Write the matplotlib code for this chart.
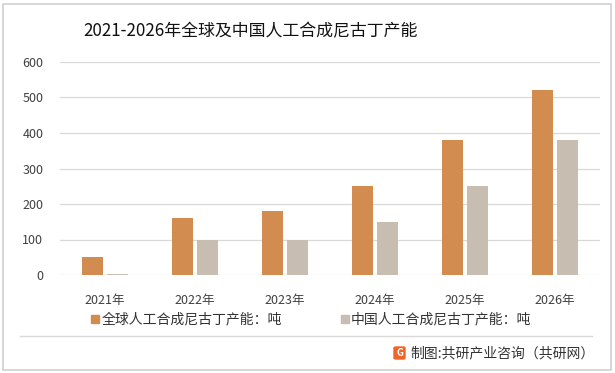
import numpy as np
import matplotlib.pyplot as plt
from matplotlib.patches import Rectangle, FancyBboxPatch
from matplotlib.lines import Line2D

plt.rcParams['font.family'] = ['Noto Sans CJK SC', 'DejaVu Sans']

years = ['2021年', '2022年', '2023年', '2024年', '2025年', '2026年']
global_cap = [50, 160, 180, 250, 380, 520]
china_cap = [3, 100, 100, 150, 250, 380]
series_names = ['全球人工合成尼古丁产能：吨', '中国人工合成尼古丁产能：吨']
title = '2021-2026年全球及中国人工合成尼古丁产能'
source = '制图:共研产业咨询（共研网）'

c_global = '#D38C4F'
c_china = '#C8BDB1'

fig = plt.figure(figsize=(6.15, 3.73), dpi=100)
ax = fig.add_axes([60 / 615, 1 - 275 / 373, 540 / 615, 213 / 373])

x = np.arange(len(years))
w = 0.235
ax.bar(x - 0.142, global_cap, w, color=c_global, zorder=3)
ax.bar(x + 0.142, china_cap, w, color=c_china, zorder=3)

ax.set_xlim(-0.5, len(years) - 0.5)
ax.set_ylim(0, 600)
ax.set_yticks(range(0, 601, 100))
ax.yaxis.grid(True, color='#D9D9D9', linewidth=0.9, zorder=0)
for s in ax.spines.values():
    s.set_visible(False)
ax.tick_params(axis='both', length=0, labelsize=9, colors='#404040')
ax.tick_params(axis='y', pad=12)
ax.tick_params(axis='x', pad=14)
ax.set_xticks(x)
ax.set_xticklabels(years)

fig.text(250 / 615, 1 - 31 / 373, title, ha='center', va='center', fontsize=12.2, color='#111111')

# legend
fy = lambda py: 1 - py / 373
fig.patches.append(Rectangle((91 / 615, fy(323)), 8 / 615, 8 / 373, color=c_global, transform=fig.transFigure))
fig.text(102 / 615, fy(319), series_names[0], ha='left', va='center', fontsize=10, color='#333333')
fig.patches.append(Rectangle((341 / 615, fy(323)), 8 / 615, 8 / 373, color=c_china, transform=fig.transFigure))
fig.text(351 / 615, fy(319), series_names[1], ha='left', va='center', fontsize=10, color='#333333')

fig.lines.append(Line2D([20 / 615, 592 / 615], [fy(336), fy(336)], color='#D9D9D9', linewidth=1, transform=fig.transFigure))

# source line with logo
fig.patches.append(FancyBboxPatch((394 / 615, fy(359)), 11 / 615, 12 / 373, boxstyle='round,pad=0,rounding_size=0.003',
                                  color='#F0642A', transform=fig.transFigure))
fig.text(399.5 / 615, fy(353), 'G', ha='center', va='center', fontsize=7, fontweight='bold', color='white')
fig.text(410 / 615, fy(353), source, ha='left', va='center', fontsize=10, color='#333333')

# outer border
fig.patches.append(Rectangle((3 / 615, 3 / 373), 608 / 615, 366 / 373, fill=False, edgecolor='#D0D0D0',
                             linewidth=1.2, transform=fig.transFigure))

fig.savefig('out.png', dpi=100)
